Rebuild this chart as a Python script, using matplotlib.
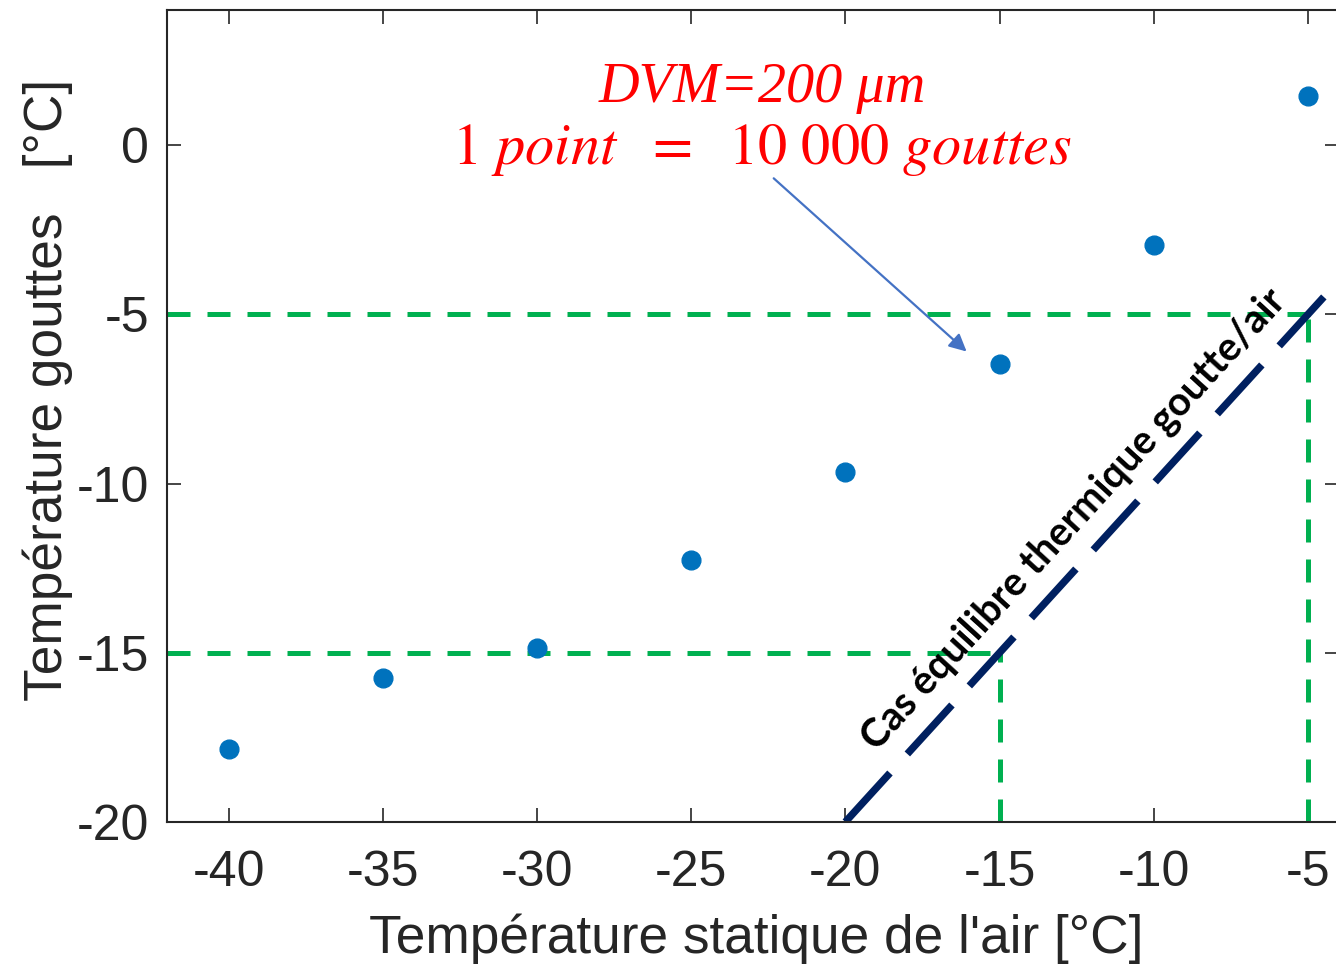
import numpy as np
import matplotlib
matplotlib.use("Agg")
import matplotlib.pyplot as plt

# Droplet temperature vs static air temperature (DVM = 200 um)
t_air = [-40, -35, -30, -25, -20, -15, -10, -5]
t_drop = [-17.85, -15.75, -14.85, -12.25, -9.65, -6.45, -2.95, 1.45]

x_ticks = [-40, -35, -30, -25, -20, -15, -10, -5]
y_ticks = [-20, -15, -10, -5, 0]

# equilibrium line (T_drop = T_air)
eq_x = [-20, -4]
eq_y = [-20, -4]

plt.rcParams['font.family'] = ['Liberation Sans', 'DejaVu Sans']
plt.rcParams['mathtext.fontset'] = 'stix'
plt.rcParams['axes.unicode_minus'] = False

fig = plt.figure(figsize=(13.36, 9.71), dpi=100)
ax = fig.add_axes([0.125, 0.1535, 0.877, 0.8362])

txt_col = '#262626'
green = '#00B050'

# reference guides at -5 and -15
ax.plot([-42, -4.6], [-5, -5], color=green, lw=3.6, dashes=(4.6, 3.4))
ax.plot([-5, -5], [-20, -5], color=green, lw=3.6, dashes=(4.6, 3.4))
ax.plot([-42, -15], [-15, -15], color=green, lw=3.6, dashes=(4.6, 3.4))
ax.plot([-15, -15], [-20, -15], color=green, lw=3.6, dashes=(4.6, 3.4))

ax.plot(eq_x, eq_y, color='#002060', lw=5.3, dashes=(9, 3.5))

ax.plot(t_air, t_drop, 'o', color='#0072BD', markersize=13.5, zorder=5)

ax.text(-12.6, -11.05, 'Cas équilibre thermique goutte/air', rotation=47.6,
        rotation_mode='anchor', ha='center', va='center', fontsize=28.5,
        fontweight='bold', family=['Lato', 'DejaVu Sans'], color='black')

ax.text(-22.7, 1.27, 'DVM=200 μm', color='red', fontsize=40.5, style='italic',
        family=['Liberation Serif', 'DejaVu Serif'], ha='center', va='baseline')
ax.text(-22.7, -0.56, r'$1\ point\ \ =\ \ 10\ 000\ gouttes$', color='red',
        fontsize=42, ha='center', va='baseline')
ax.annotate('', xy=(-16.0, -6.15), xytext=(-22.39, -0.92),
            arrowprops=dict(arrowstyle='-|>', color='#4472C4', lw=1.6,
                            mutation_scale=26))

ax.set_xlim(-42, -4)
ax.set_ylim(-20, 4)
ax.set_xticks(x_ticks)
ax.set_yticks(y_ticks)
ax.tick_params(direction='in', length=10, width=1.2, colors=txt_col,
               labelsize=36, top=True, right=True)
ax.tick_params(axis='x', pad=20)
ax.tick_params(axis='y', pad=13)
for s in ax.spines.values():
    s.set_color(txt_col)
    s.set_linewidth(1.5)

fig.text(756 / 1336, 1 - 953 / 971, "Température statique de l'air [°C]",
         fontsize=38.3, color=txt_col, ha='center', va='baseline')
fig.text(48 / 1336, 1 - 390 / 971, 'Température gouttes   [°C]',
         fontsize=38.3, color=txt_col, ha='center', va='center', rotation=90)

fig.savefig('out.png', dpi=100)
